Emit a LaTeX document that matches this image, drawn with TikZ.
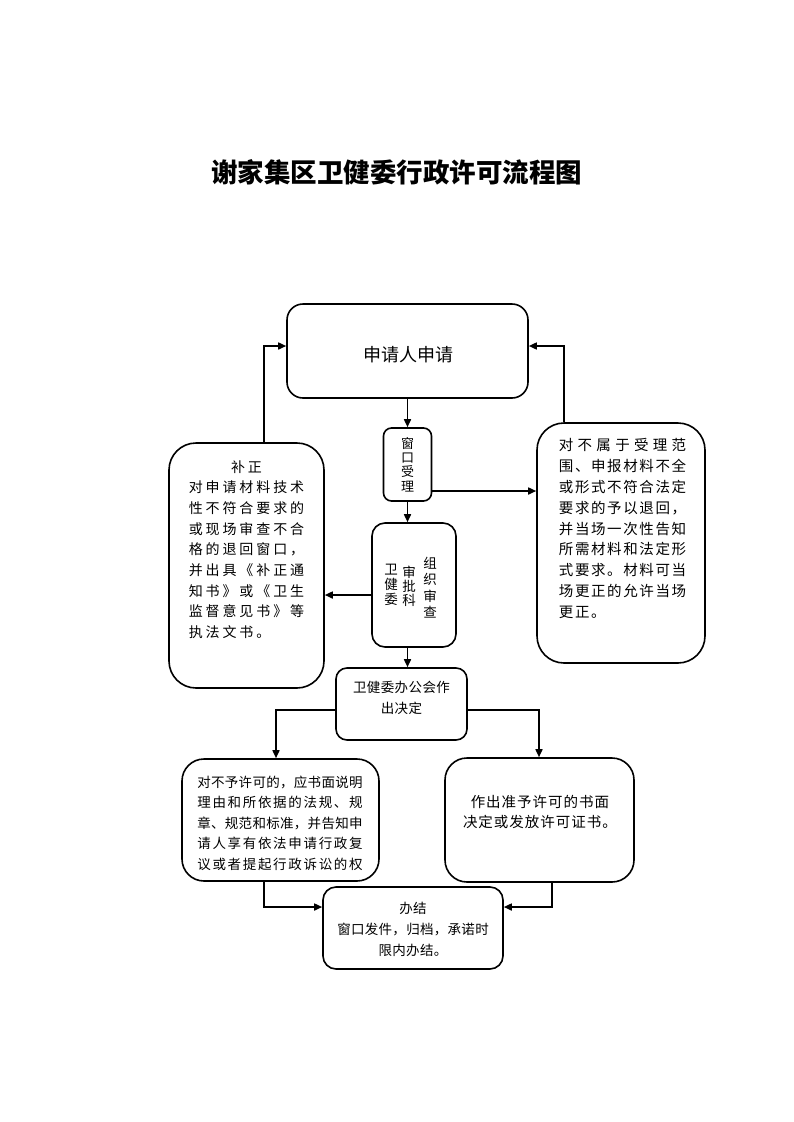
\documentclass[tikz,border=0pt]{standalone}
\usepackage{fontspec}
\usetikzlibrary{arrows.meta}
\newfontfamily\cjk{Noto Sans CJK SC}
\newlength\gp
\def\gridaux#1{\ifx#1\relax\else\makebox[\gp]{#1}\expandafter\gridaux\fi}
\newcommand\gl[1]{\gridaux#1\relax}
\def\sprdaux#1{\ifx#1\relax\else#1\expandafter\sprdnext\fi}
\def\sprdnext{\futurelet\sprdtok\sprdcheck}
\def\sprdcheck{\ifx\sprdtok\relax\else\hfill\fi\sprdaux}
\newcommand\jl[2]{\makebox[#1\gp]{\hspace{\dimexpr0.5\gp-0.5em\relax}\sprdaux#2\relax\hspace{\dimexpr0.5\gp-0.5em\relax}}}
\newcommand\setgp[1]{\global\gp=#1\relax}
\begin{document}
\begin{tikzpicture}[x=1pt,y=-1pt,
  box/.style={draw,line width=1.6pt,inner sep=0pt},
  txt/.style={inner sep=0pt,align=left},
  ctxt/.style={inner sep=0pt,align=center},
  arr/.style={line width=1.6pt,-{Triangle[length=8pt,width=7pt]}}]
\useasboundingbox (0,0) rectangle (793,1122);
% title
\node[ctxt,font=\cjk\bfseries\fontsize{26.5}{30}\selectfont] (title) at (396.5,172) {谢家集区卫健委行政许可流程图};
% boxes
\node[box,rounded corners=16pt,minimum width=241pt,minimum height=94pt] (box1) at (407.5,351) {};
\node[box,rounded corners=8pt,minimum width=48pt,minimum height=73pt] (ck) at (407.5,464.5) {};
\node[box,rounded corners=13pt,minimum width=84pt,minimum height=124pt] (wjw) at (414,585) {};
\node[box,rounded corners=27pt,minimum width=155pt,minimum height=245pt] (bz) at (246.5,565.5) {};
\node[box,rounded corners=27pt,minimum width=168pt,minimum height=240pt] (rbox) at (621,543) {};
\node[box,rounded corners=11pt,minimum width=131pt,minimum height=72pt] (meet) at (401.5,704) {};
\node[box,rounded corners=22pt,minimum width=197pt,minimum height=122pt] (blbox) at (280.5,820) {};
\node[box,rounded corners=22pt,minimum width=189pt,minimum height=124pt] (rbbox) at (539.5,820) {};
\node[box,rounded corners=13pt,minimum width=180pt,minimum height=82pt] (final) at (413,928) {};
% texts
\setgp{17.8pt}
\node[ctxt,font=\cjk\fontsize{18}{22}\selectfont] (box1-t) at (408.5,355) {\gl{申请人申请}};
\node[ctxt,font=\cjk\fontsize{13}{14.3}\selectfont] (ck-t) at (407.5,464.5) {窗\\口\\受\\理};
\node[ctxt,font=\cjk\fontsize{13.5}{16.3}\selectfont] (wjw-t1) at (430,587.5) {组\\织\\审\\查};
\node[ctxt,font=\cjk\fontsize{13.5}{14}\selectfont] (wjw-t2) at (409,586) {审\\批\\科};
\node[ctxt,font=\cjk\fontsize{13.5}{15}\selectfont] (wjw-t3) at (391,585) {卫\\健\\委};
\setgp{16.9pt}
\node[txt,font=\cjk\fontsize{14}{20.7}\selectfont] (bz-t) at (246.5,549.5) {%
\makebox[7\gp]{\gl{补正}}\\\gl{对申请材料技术}\\\gl{性不符合要求的}\\\gl{或现场审查不合}\\\gl{格的退回窗口，}\\\gl{并出具《补正通}\\\gl{知书》或《卫生}\\\gl{监督意见书》等}\\\gl{执法文书。}};
\setgp{16.1pt}
\node[txt,font=\cjk\fontsize{14.5}{20.9}\selectfont] (rbox-t) at (622.5,528.5) {%
\jl{8}{对不属于受理范}\\\gl{围、申报材料不全}\\\gl{或形式不符合法定}\\\gl{要求的予以退回，}\\\gl{并当场一次性告知}\\\gl{所需材料和法定形}\\\gl{式要求。材料可当}\\\gl{场更正的允许当场}\\\gl{更正。}};
\setgp{13.9pt}
\node[ctxt,font=\cjk\fontsize{13.5}{21}\selectfont] (meet-t) at (401.5,697.5) {%
\gl{卫健委办公会作}\\\gl{出决定}};
\setgp{13.8pt}
\node[txt,font=\cjk\fontsize{13.5}{20.5}\selectfont] (blbox-t) at (280,823) {%
\gl{对不予许可的，应书面说明}\\\jl{12}{理由和所依据的法规、规}\\\gl{章、规范和标准，并告知申}\\\jl{12}{请人享有依法申请行政复}\\\jl{12}{议或者提起行政诉讼的权}};
\setgp{15.5pt}
\node[ctxt,font=\cjk\fontsize{14.5}{20.5}\selectfont] (rbbox-t) at (540,812) {%
\gl{作出准予许可的书面}\\\gl{决定或发放许可证书。}};
\setgp{13.8pt}
\node[ctxt,font=\cjk\fontsize{13.5}{21}\selectfont] (final-t) at (413,929) {%
\gl{办结}\\\gl{窗口发件，归档，承诺时}\\\gl{限内办结。}};
% helper coordinates
\coordinate (lx) at (264,0);
\coordinate (rx) at (564,0);
\coordinate (mlx) at (276,0);
\coordinate (mrx) at (539,0);
\coordinate (blx) at (264,0);
\coordinate (brx) at (552,0);
% connectors
\draw[arr] (box1.south) -- (ck.north);
\draw[arr] (ck.south) -- (ck.south |- wjw.north);
\draw[arr] ([yshift=-26.5pt]ck.east) coordinate (a3) -- (a3 -| rbox.west);
\draw[arr] ([yshift=-10pt]wjw.west) coordinate (a4) -- (a4 -| bz.east);
\draw[arr] (ck.south |- wjw.south) -- (ck.south |- meet.north);
\draw[arr] (lx |- bz.north) |- ([yshift=5pt]box1.west);
\draw[arr] (rx |- rbox.north) |- ([yshift=5pt]box1.east);
\draw[arr] ([yshift=-6pt]meet.west) -| (mlx |- blbox.north);
\draw[arr] ([yshift=-6pt]meet.east) -| (mrx |- rbbox.north);
\draw[arr] (blx |- blbox.south) |- ([yshift=21pt]final.west);
\draw[arr] (brx |- rbbox.south) |- ([yshift=21pt]final.east);
\end{tikzpicture}
\end{document}
